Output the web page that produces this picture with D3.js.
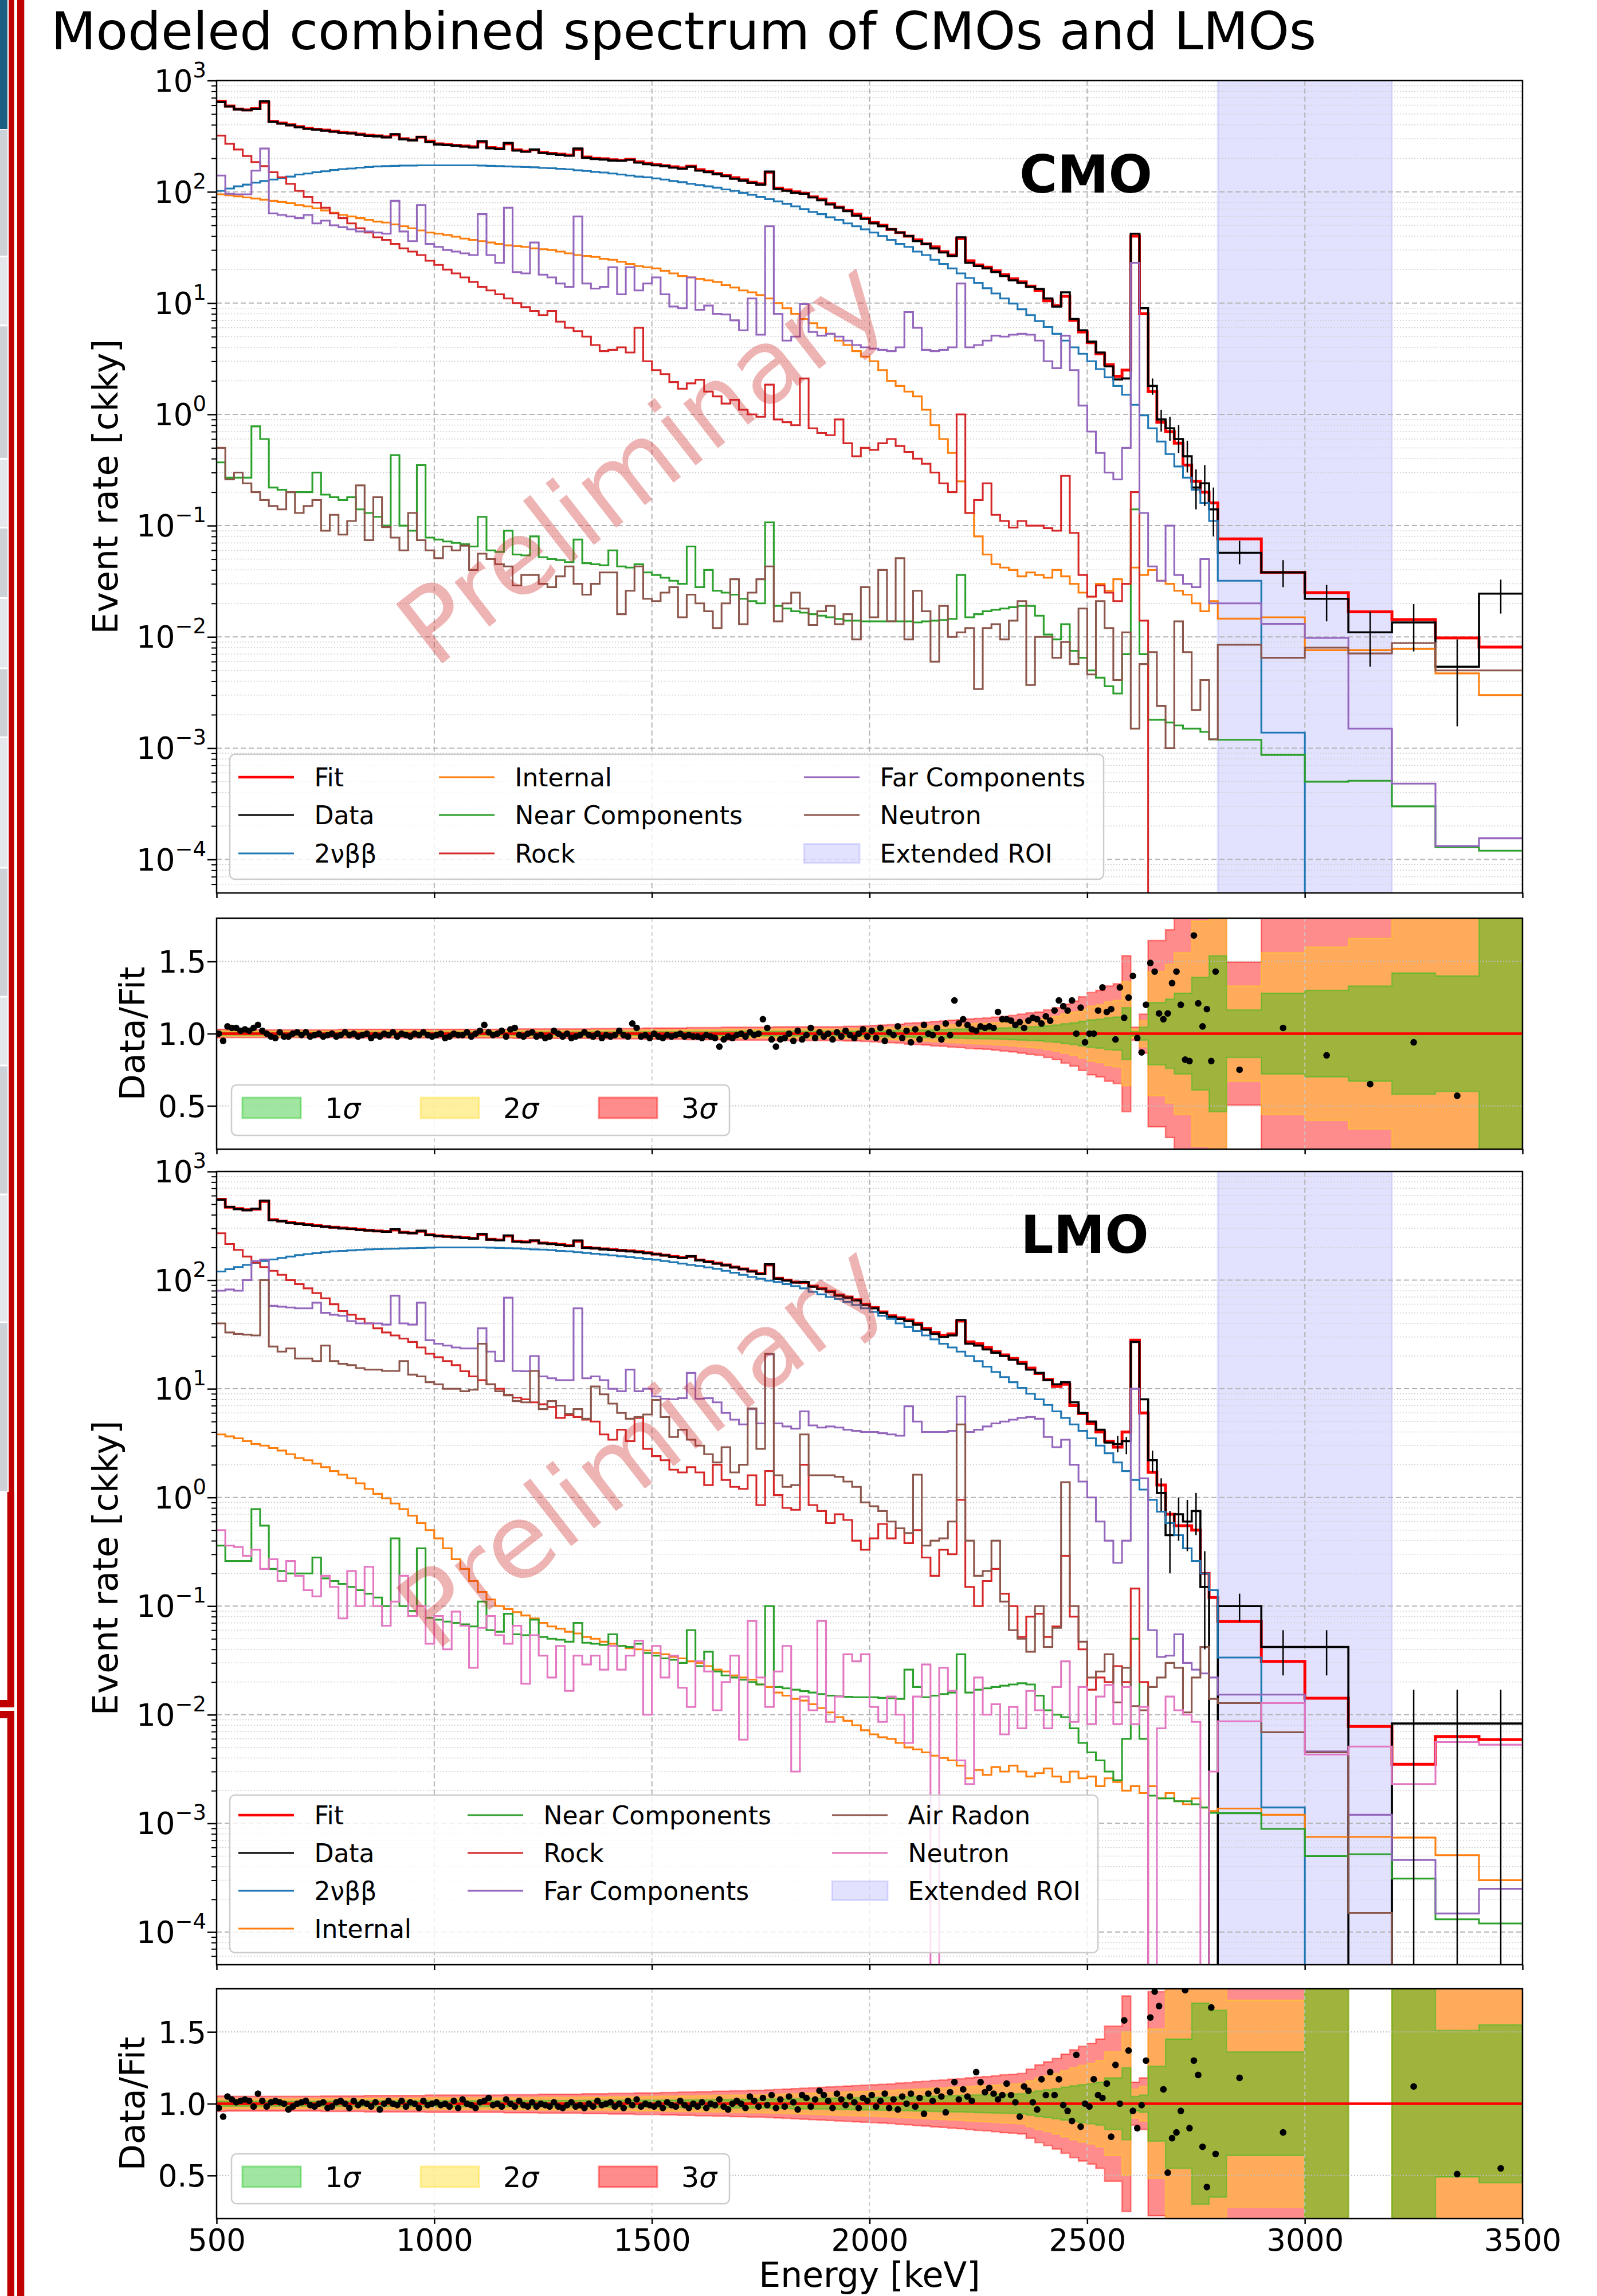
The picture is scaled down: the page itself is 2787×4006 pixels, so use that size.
<!DOCTYPE html>
<html>
<head>
<meta charset="utf-8">
<script src="https://cdn.jsdelivr.net/npm/d3@7/dist/d3.min.js"></script>
<style>
  body { margin: 0; background: #fff; }
  svg { display: block; }
  text { font-family: "DejaVu Sans", sans-serif; }
</style>
</head>
<body>
<svg id="chart" width="2787" height="4006"></svg>
<script>
// ---------------- binning (keV) ----------------
// 20 keV bins from 500 to 2800, then 100 keV bins up to 3500
const fineEdges = d3.range(500, 2800, 20);
const coarseEdges = d3.range(2800, 3501, 100);
const binEdges = fineEdges.concat(coarseEdges);
const binCenters = binEdges.slice(0, -1).map((e, i) => (e + binEdges[i + 1]) / 2);
// ratio points: 10 keV bins, then 100 keV bins
const ratioCenters = d3.range(505, 2800, 10).concat(d3.range(2850, 3500, 100));

const xTicks = [500, 1000, 1500, 2000, 2500, 3000, 3500];
const decadeExps = [-4, -3, -2, -1, 0, 1, 2, 3];
const ratioTicks = [0.5, 1.0, 1.5];
const roi = [2800, 3200];

// ---------------- CMO spectrum (counts / keV / kg / yr) ----------------
const cmoFit = [
  650, 590, 555, 545, 560, 640, 430, 415, 400, 385,
  372, 365, 358, 350, 342, 338, 330, 322, 318, 312,
  325, 300, 292, 310, 285, 270, 266, 262, 258, 254,
  280, 250, 245, 270, 238, 232, 238, 226, 222, 218,
  214, 240, 205, 200, 198, 194, 192, 196, 186, 180,
  176, 172, 168, 164, 170, 158, 152, 146, 140, 134,
  128, 122, 118, 150, 108, 104, 100, 97, 90, 86,
  78, 73, 68, 63, 58, 53, 50, 46, 43, 40,
  37, 34, 32, 29, 27, 38, 24, 22, 21, 19.5,
  18, 16.5, 15.5, 14.2, 13, 10.5, 9.5, 11.5, 7, 5.5,
  4.4, 3.5, 2.8, 2.2, 2.5, 40, 8, 1.6, 0.85, 0.7,
  0.55, 0.35, 0.25, 0.2, 0.16,
  0.076, 0.038, 0.025, 0.0168, 0.0143, 0.0098, 0.0081
];
const cmoData = [
  640, 585, 550, 540, 555, 650, 425, 410, 396, 380,
  368, 362, 354, 347, 338, 335, 326, 318, 315, 308,
  330, 296, 290, 312, 280, 266, 263, 259, 255, 250,
  285, 246, 242, 275, 235, 229, 240, 223, 219, 215,
  211, 245, 202, 197, 195, 191, 190, 194, 183, 177,
  173, 170, 165, 161, 168, 155, 150, 144, 138, 131,
  126, 120, 116, 152, 106, 102, 98, 96, 89, 84,
  77, 72, 67, 61, 57, 52, 49, 46, 43, 40,
  36, 34, 31, 28.5, 26.5, 39, 23, 21.5, 20.5, 19,
  17.5, 16, 15.2, 14, 13.4, 11, 9.3, 12.5, 7.2, 5.7,
  4.5, 3.6, 2.7, 2.06, 2.1, 42, 9, 1.8, 0.9, 0.75,
  0.6, 0.42, 0.22, 0.24, 0.14,
  0.057, 0.038, 0.022, 0.011, 0.0135, 0.0054, 0.0245
];
const cmoTwoNu = [
  102, 107, 112, 116, 121, 125, 129, 133, 137, 143,
  146, 150, 153, 157, 160, 162, 165, 167, 169, 170,
  171, 172, 172, 173, 173, 173, 173, 173, 173, 173,
  172, 171, 170, 169, 168, 167, 166, 164, 163, 161,
  159, 156, 154, 151, 149, 146, 143, 140, 137, 135,
  132, 129, 125, 122, 118, 115, 112, 109, 105, 102,
  98, 94, 90, 86, 82, 78, 74, 70, 66, 63,
  59, 56, 52, 49, 46, 43, 40, 37, 34, 32,
  29, 27, 24.5, 22.5, 20.5, 18.5, 16.8, 15.2, 13.6, 12.2,
  11, 9.9, 8.8, 7.8, 6.9, 6.1, 5.3, 4.6, 4.0, 3.5,
  3.0, 2.55, 2.15, 1.8, 1.5, 1.22, 0.98, 0.75, 0.57, 0.44,
  0.34, 0.27, 0.21, 0.16, 0.11,
  0.032, 0.00138, 0, 0, 0, 0, 0
];
const cmoInternal = [
  95, 93, 91, 89, 87, 85, 83, 81, 79, 76,
  74, 71, 68, 65, 62, 60, 58, 56, 54, 53,
  51, 49, 47, 45, 43, 42, 41, 39.5, 38, 37,
  36, 35, 34, 33, 32.5, 32, 31, 30.5, 30, 29,
  28, 27, 26.5, 26, 25, 24.5, 23.5, 22.5, 21.5, 21,
  20.5, 19.5, 18.5, 17.5, 17, 16.5, 16, 15.5, 14.5, 13.8,
  13, 12.5, 11.8, 11, 10, 9, 8, 7.2, 6.6, 6,
  5.3, 4.6, 4.2, 3.7, 3.3, 3.0, 2.5, 2.0, 1.8, 1.6,
  1.45, 1.1, 0.8, 0.6, 0.45, 0.25, 0.13, 0.08, 0.055, 0.045,
  0.042, 0.04, 0.035, 0.038, 0.036, 0.034, 0.04, 0.035, 0.03, 0.025,
  0.023, 0.03, 0.026, 0.033, 0.03, 0.042, 0.036, 0.04, 0.032, 0.03,
  0.026, 0.024, 0.02, 0.017, 0.021,
  0.0146, 0.015, 0.0076, 0.0076, 0.0078, 0.0047, 0.003
];
const cmoNear = [
  0.37, 0.27, 0.27, 0.27, 0.78, 0.6, 0.22, 0.21, 0.2, 0.2,
  0.2, 0.3, 0.19, 0.18, 0.17, 0.18, 0.14, 0.13, 0.12, 0.1,
  0.43, 0.1, 0.09, 0.35, 0.078, 0.075, 0.072, 0.07, 0.068, 0.065,
  0.12, 0.06, 0.058, 0.09, 0.055, 0.054, 0.08, 0.052, 0.05, 0.049,
  0.047, 0.075, 0.046, 0.045, 0.044, 0.06, 0.043, 0.042, 0.045, 0.038,
  0.036, 0.034, 0.032, 0.03, 0.065, 0.028, 0.04, 0.026, 0.025, 0.024,
  0.022, 0.021, 0.02, 0.107, 0.019, 0.018, 0.017, 0.0165, 0.016, 0.0155,
  0.015, 0.0145, 0.014, 0.014, 0.0138, 0.0138, 0.0138, 0.0138, 0.0138, 0.0138,
  0.0135, 0.0138, 0.014, 0.0142, 0.0145, 0.036, 0.015, 0.016, 0.017, 0.0175,
  0.018, 0.0185, 0.019, 0.019, 0.0155, 0.0105, 0.0095, 0.013, 0.0075, 0.0065,
  0.005, 0.0043, 0.0036, 0.0031, 0.007, 0.14, 0.007, 0.0018, 0.0018, 0.0017,
  0.0016, 0.0015, 0.0015, 0.0014, 0.0012,
  0.00119, 0.00087, 0.0005, 0.00051, 0.0003, 0.000129, 0.00012
];
const cmoRock = [
  320, 270, 240, 210, 185, 170, 150, 135, 118, 102,
  90, 80, 72, 64, 58, 52, 47, 43, 39, 37,
  34, 31, 29, 27, 24, 22, 20, 18.5, 17, 15.5,
  14, 13, 12, 11, 10, 9.2, 8.5, 7.8, 8.5, 6.8,
  6.0, 5.6, 5.0, 4.2, 3.7, 3.8, 4.0, 3.6, 6.0, 3.0,
  2.5, 2.3, 1.95, 1.7, 1.9, 2.05, 1.6, 1.45, 1.25, 1.35,
  1.1, 1.0, 0.95, 1.85, 0.9, 0.85, 0.8, 2.1, 0.75, 0.68,
  0.65, 0.9, 0.55, 0.42, 0.5, 0.48, 0.55, 0.6, 0.52, 0.46,
  0.4, 0.36, 0.3, 0.24, 0.2, 1.0, 0.13, 0.17, 0.24, 0.125,
  0.11, 0.096, 0.11, 0.1, 0.1, 0.095, 0.09, 0.28, 0.086, 0.036,
  0.023, 0.029, 0.025, 0.021, 0.03, 0.2, 0.014, 0, 0, 0,
  0, 0, 0, 0, 0,
  0, 0, 0, 0, 0, 0, 0
];
const cmoFar = [
  140, 96, 95, 95, 155, 245, 64, 62, 60, 58,
  62, 52, 55, 50, 48, 46, 44, 44, 43, 42,
  83, 44, 36, 76, 34, 32, 30, 29, 28, 27,
  63, 27, 23, 72, 19, 18.5, 35, 18, 17, 15,
  14, 60, 15, 13.5, 14, 21, 12, 21, 13, 15,
  17, 12, 9.3, 9, 17, 8.7, 9.5, 8, 7.9, 7,
  5.7, 11, 5.2, 49, 8, 4.6, 5, 9.8, 5.5, 5.1,
  5.3, 5.0, 4.6, 4.2, 4.0, 3.9, 3.8, 3.7, 4.0, 8.3,
  6, 3.8, 3.7, 3.8, 4.0, 15, 4.0, 4.2, 4.6, 5.1,
  5.0, 5.2, 5.3, 5.2, 4.6, 3.0, 2.6, 5.1, 2.5, 1.2,
  0.7, 0.45, 0.3, 0.26, 0.5, 23, 0.13, 0.043, 0.032, 0.1,
  0.036, 0.03, 0.028, 0.05, 0.02,
  0.02, 0.0131, 0.0098, 0.0015, 0.00048, 0.000132, 0.000155
];
const cmoNeutron = [
  0.5, 0.26, 0.3, 0.24, 0.2, 0.17, 0.15, 0.14, 0.2, 0.13,
  0.15, 0.17, 0.09, 0.125, 0.083, 0.11, 0.23, 0.074, 0.18, 0.097,
  0.078, 0.06, 0.13, 0.074, 0.06, 0.051, 0.065, 0.06, 0.066, 0.04,
  0.056, 0.05, 0.045, 0.043, 0.029, 0.036, 0.036, 0.03, 0.028, 0.035,
  0.043, 0.03, 0.024, 0.03, 0.038, 0.038, 0.016, 0.026, 0.043, 0.022,
  0.021, 0.025, 0.028, 0.015, 0.024, 0.02, 0.017, 0.012, 0.02, 0.033,
  0.013, 0.025, 0.033, 0.043, 0.0138, 0.02, 0.025, 0.018, 0.0128, 0.017,
  0.019, 0.013, 0.016, 0.0095, 0.028, 0.015, 0.04, 0.0138, 0.051, 0.0095,
  0.026, 0.017, 0.006, 0.019, 0.01, 0.011, 0.012, 0.0034, 0.012, 0.013,
  0.0095, 0.014, 0.021, 0.0037, 0.01, 0.01, 0.0065, 0.009, 0.0057, 0.018,
  0.0046, 0.021, 0.012, 0.0041, 0.011, 0.0015, 0.0057, 0.0073, 0.0024, 0.001,
  0.0138, 0.0073, 0.0022, 0.0041, 0.0012,
  0.0085, 0.0065, 0.008, 0.0071, 0.0088, 0.005, 0.005
];
const cmoErrE  = [2650, 2670, 2690, 2710, 2730, 2750, 2770, 2790, 2850, 2950, 3050, 3150, 3250, 3350, 3450];
const cmoErrLo = [1.5, 0.7, 0.58, 0.45, 0.3, 0.14, 0.15, 0.08, 0.045, 0.028, 0.0138, 0.0054, 0.0074, 0.00157, 0.0162];
const cmoErrHi = [2.1, 1.1, 0.95, 0.8, 0.58, 0.32, 0.35, 0.22, 0.073, 0.049, 0.0293, 0.0168, 0.0197, 0.0095, 0.0327];

// ---------------- LMO spectrum ----------------
const lmoFit = [
  555, 470, 455, 445, 450, 530, 360, 350, 340, 332,
  325, 318, 312, 307, 302, 298, 293, 288, 284, 281,
  290, 276, 272, 282, 262, 256, 253, 250, 246, 243,
  262, 238, 234, 255, 228, 225, 230, 220, 217, 213,
  208, 228, 200, 197, 194, 191, 188, 186, 183, 179,
  174, 170, 165, 161, 165, 153, 148, 143, 138, 132,
  127, 121, 115, 138, 104, 100, 96, 95, 88, 84,
  79, 73, 70, 66, 60, 56, 51, 47, 45, 43,
  40, 36, 33, 31, 32, 42, 27, 26, 24, 22,
  20.5, 19, 17.5, 15.5, 13.8, 12.2, 10.5, 11, 7, 5.9,
  4.8, 4.0, 3.3, 2.9, 4, 28, 6, 1.7, 1.3, 0.7,
  0.55, 0.55, 0.5, 0.2, 0.12,
  0.072, 0.031, 0.0142, 0.0078, 0.0035, 0.0063, 0.0059
];
const lmoData = [
  550, 472, 450, 440, 455, 540, 355, 348, 336, 330,
  322, 316, 310, 305, 299, 296, 290, 286, 282, 279,
  294, 274, 270, 285, 260, 254, 252, 248, 244, 241,
  266, 236, 232, 258, 226, 223, 232, 218, 215, 211,
  206, 232, 198, 196, 192, 189, 187, 184, 181, 177,
  173, 169, 164, 160, 166, 152, 147, 142, 137, 131,
  126, 120, 114, 140, 103, 99, 95, 96, 87, 83,
  78, 72, 69, 65, 59, 55, 50, 46, 44, 42,
  39, 35, 32, 30, 31, 43, 26, 25, 23, 21.5,
  20, 18.5, 17, 15, 14, 12, 11, 11.5, 7.5, 6,
  5.0, 4.2, 3.2, 3.1, 3.3, 27, 8, 2.2, 1.1, 0.45,
  0.7, 0.6, 0.75, 0.15, 0,
  0.1, 0.042, 0.042, 0, 0.0083, 0.0083, 0.0083
];
const lmoTwoNu = [
  120, 126, 132, 138, 144, 150, 155, 160, 165, 170,
  174, 177, 181, 184, 186, 188, 190, 192, 193, 194,
  195, 196, 197, 198, 199, 200, 200, 200, 200, 200,
  200, 199, 198, 197, 196, 194, 192, 191, 189, 186,
  184, 181, 178, 175, 172, 169, 166, 163, 160, 157,
  154, 150, 146, 142, 138, 135, 131, 127, 122, 117,
  112, 107, 103, 99, 96, 92, 88, 84, 78, 74,
  70, 67, 63, 59, 55, 51, 47, 44, 40, 37,
  34, 31, 28.5, 26, 24, 22, 20, 18, 16, 14.3,
  12.8, 11.5, 10.2, 9, 8, 7.1, 6.2, 5.4, 4.7, 4.1,
  3.5, 3.0, 2.55, 2.1, 1.75, 1.45, 1.18, 0.95, 0.74, 0.58,
  0.45, 0.34, 0.26, 0.2, 0.14,
  0.0336, 0.0014, 0, 0, 0, 0, 0
];
const lmoInternal = [
  3.8, 3.65, 3.5, 3.3, 3.1, 3.0, 2.85, 2.7, 2.5, 2.3,
  2.2, 2.05, 1.9, 1.75, 1.62, 1.5, 1.35, 1.2, 1.08, 0.98,
  0.88, 0.78, 0.68, 0.58, 0.5, 0.42, 0.34, 0.27, 0.22, 0.17,
  0.135, 0.115, 0.1, 0.094, 0.088, 0.082, 0.077, 0.07, 0.065, 0.062,
  0.058, 0.056, 0.052, 0.05, 0.047, 0.045, 0.043, 0.041, 0.04, 0.039,
  0.037, 0.036, 0.034, 0.033, 0.031, 0.03, 0.028, 0.026, 0.025, 0.023,
  0.022, 0.021, 0.019, 0.018, 0.016, 0.015, 0.014, 0.0135, 0.0125, 0.0115,
  0.0105, 0.0095, 0.0088, 0.008, 0.0072, 0.0066, 0.0062, 0.006, 0.0055, 0.005,
  0.0048, 0.0045, 0.0042, 0.004, 0.0038, 0.0034, 0.0026, 0.0031, 0.0028, 0.0033,
  0.003, 0.0034, 0.003, 0.0027, 0.0029, 0.0032, 0.0027, 0.0024, 0.003, 0.0026,
  0.0027, 0.0022, 0.0026, 0.0024, 0.002, 0.0022, 0.0019, 0.0022, 0.0017, 0.0019,
  0.0016, 0.0015, 0.0017, 0.0014, 0.0013,
  0.00137, 0.0012, 0.00075, 0.00075, 0.00074, 0.00051, 0.0003
];
const lmoNear = [
  0.36, 0.26, 0.26, 0.26, 0.78, 0.55, 0.22, 0.21, 0.2, 0.2,
  0.2, 0.28, 0.18, 0.17, 0.16, 0.15, 0.14, 0.13, 0.12, 0.1,
  0.42, 0.1, 0.09, 0.34, 0.078, 0.075, 0.072, 0.07, 0.068, 0.065,
  0.11, 0.06, 0.058, 0.085, 0.055, 0.054, 0.075, 0.052, 0.05, 0.049,
  0.047, 0.07, 0.046, 0.045, 0.044, 0.055, 0.043, 0.042, 0.045, 0.037,
  0.035, 0.033, 0.032, 0.03, 0.06, 0.028, 0.038, 0.025, 0.023, 0.022,
  0.021, 0.02, 0.019, 0.1, 0.018, 0.0175, 0.017, 0.0165, 0.016, 0.0155,
  0.015, 0.0148, 0.0146, 0.0145, 0.0145, 0.0145, 0.0143, 0.0142, 0.014, 0.026,
  0.018, 0.0145, 0.015, 0.0155, 0.016, 0.036, 0.016, 0.017, 0.0175, 0.018,
  0.0185, 0.019, 0.0195, 0.019, 0.015, 0.011, 0.01, 0.0095, 0.0075, 0.0055,
  0.0045, 0.0038, 0.003, 0.0025, 0.006, 0.05, 0.006, 0.0018, 0.0017, 0.0017,
  0.0016, 0.0016, 0.0015, 0.0014, 0.00125,
  0.00124, 0.00089, 0.0005, 0.00052, 0.00031, 0.000131, 0.00012
];
const lmoRock = [
  270, 215, 190, 165, 145, 132, 122, 112, 100, 92,
  84, 76, 68, 60, 52, 48, 44, 40, 36, 33,
  31, 29, 27, 24, 21, 19.5, 18, 16.5, 14.5, 13,
  12, 11, 10, 8.8, 8.3, 8, 7.5, 7.2, 6.8, 5.4,
  5.7, 5.5, 5.2, 5.0, 3.8, 3.4, 4.2, 3.3, 5.4, 2.8,
  2.4, 2.2, 1.8, 1.7, 1.9, 1.7, 1.3, 2.0, 1.45, 1.25,
  1.2, 1.6, 0.85, 1.75, 1.05, 0.8, 0.77, 2.0, 0.85, 0.75,
  0.58, 0.7, 0.62, 0.4, 0.33, 0.42, 0.57, 0.42, 0.52, 0.38,
  0.5, 0.28, 0.19, 0.33, 0.3, 0.95, 0.15, 0.1, 0.17, 0.22,
  0.13, 0.1, 0.052, 0.08, 0.085, 0.052, 0.065, 0.29, 0.08, 0.04,
  0.017, 0.022, 0.02, 0.028, 0.02, 0.145, 0.02, 0, 0, 0,
  0, 0, 0, 0, 0,
  0, 0, 0, 0, 0, 0, 0
];
const lmoFar = [
  80, 82, 80, 100, 150, 155, 58, 57, 56, 55,
  55, 62, 50, 48, 47, 42, 40, 40, 40, 39,
  72, 40, 39, 62, 28, 26, 25, 24, 23.5, 23.5,
  36, 22, 18, 69, 14.6, 14.5, 20, 13, 12.5, 12,
  12, 55, 12.5, 13, 12, 10, 9.5, 15, 9.5, 10,
  8.5, 8.1, 8, 8.2, 14, 8.1, 8.2, 7.5, 6, 5.2,
  4.7, 6.5, 4.8, 20.7, 4.8, 4.5, 4.3, 6.2, 4.6, 4.4,
  4.5, 4.4, 4.2, 4.1, 4.0, 4.0, 3.9, 3.8, 3.7, 6.9,
  5, 4, 4, 4, 4.1, 8.5, 4.0, 4.2, 4.5, 4.8,
  5.0, 5.2, 5.4, 5.5, 5.3, 3.6, 2.9, 3.4, 2.0, 1.4,
  1.0, 0.6, 0.4, 0.25, 0.4, 10, 1.5, 0.06, 0.034, 0.035,
  0.055, 0.03, 0.026, 0.024, 0.022,
  0.0153, 0.0153, 0.0046, 0.0012, 0.00046, 0.000148, 0.00025
];
const lmoAirRadon = [
  40, 33, 32, 31.5, 31, 100, 24.5, 22, 23.5, 19,
  19, 18, 25, 18, 17, 16.5, 15.5, 15, 15, 14.6,
  14.6, 18, 13.5, 13, 11.5, 11, 10, 10, 9.5, 9.8,
  26, 11, 9.5, 8.7, 7.7, 7.5, 14.6, 6.5, 7.7, 7,
  5.9, 6.5, 5.3, 10.5, 8.9, 7.3, 6, 5.3, 5.5, 5.8,
  7.9, 5.5, 3.6, 4.2, 3.4, 3.0, 2.5, 2.1, 2.9, 1.7,
  2.0, 6.6, 2.8, 21, 1.6, 1.25, 1.3, 3.8, 1.6, 1.6,
  1.6, 1.55, 1.4, 1.25, 0.9, 0.83, 0.75, 0.6, 0.52, 0.47,
  1.62, 0.36, 0.4, 0.42, 0.6, 4.7, 0.4, 0.19, 0.21, 0.4,
  0.11, 0.06, 0.05, 0.038, 0.1, 0.042, 0.063, 1.38, 0.1, 0.047,
  0.022, 0.025, 0.036, 0.013, 0.027, 0.012, 0.011, 0.018, 0.022, 0.03,
  0.027, 0.0105, 0.022, 0.042, 0.014,
  0.0128, 0.0069, 0.0045, 0.00015, 0, 0, 0
];
const lmoNeutron = [
  0.5, 0.36, 0.35, 0.29, 0.33, 0.22, 0.27, 0.17, 0.26, 0.19,
  0.14, 0.123, 0.19, 0.15, 0.077, 0.21, 0.1, 0.23, 0.1, 0.066,
  0.11, 0.19, 0.081, 0.1, 0.045, 0.081, 0.04, 0.089, 0.066, 0.027,
  0.063, 0.081, 0.054, 0.045, 0.066, 0.0193, 0.054, 0.035, 0.022, 0.043,
  0.0166, 0.035, 0.029, 0.035, 0.026, 0.043, 0.026, 0.035, 0.048, 0.01,
  0.043, 0.022, 0.035, 0.0177, 0.0118, 0.031, 0.025, 0.011, 0.02, 0.035,
  0.0059, 0.073, 0.022, 0.0118, 0.025, 0.043, 0.003, 0.0147, 0.011, 0.073,
  0.0086, 0.0147, 0.036, 0.031, 0.036, 0.0118, 0.0086, 0.0147, 0.01, 0.0055,
  0.0147, 0.029, 0, 0.027, 0.0166, 0.0038, 0.0023, 0.022, 0.01, 0.0125,
  0.0066, 0.0118, 0.0075, 0.0166, 0.011, 0.0075, 0.018, 0.031, 0.0086, 0.018,
  0.0082, 0.0147, 0.0188, 0.0082, 0.018, 0.0082, 0.0118, 0, 0.0075, 0.0147,
  0.011, 0.01, 0.0086, 0, 0.003,
  0.0087, 0.0128, 0.0043, 0.0051, 0.0023, 0.0056, 0.0053
];
const lmoErrE  = [2570, 2590, 2650, 2670, 2690, 2710, 2730, 2750, 2770, 2850, 2950, 3050, 3250, 3350, 3450];
const lmoErrLo = [2.6, 2.5, 1.7, 0.75, 0.2, 0.4, 0.32, 0.45, 0.04, 0.072, 0.023, 0.023, 0, 0, 0];
const lmoErrHi = [3.7, 3.6, 2.7, 1.5, 0.75, 1.0, 0.95, 1.1, 0.32, 0.13, 0.06, 0.06, 0.017, 0.017, 0.017];

// ---------------- Data/Fit ratios ----------------
const cmoRatio = [
  1.00, 0.95, 1.05, 1.04, 1.04, 1.02, 1.03, 1.02, 1.04, 1.06,
  1.02, 1.00, 0.98, 0.97, 1.01, 0.98, 0.98, 1.00, 1.01, 0.99,
  1.01, 0.98, 0.99, 1.00, 0.98, 0.99, 1.00, 0.98, 0.99, 1.01,
  0.99, 1.00, 0.98, 0.99, 1.00, 0.97, 0.99, 0.98, 1.00, 0.99,
  1.01, 0.98, 1.00, 0.99, 0.98, 1.00, 0.99, 1.01, 0.99, 0.98,
  0.99, 1.00, 0.97, 0.98, 1.00, 0.99, 0.99, 1.01, 0.98, 1.00,
  1.02, 1.06, 1.01, 0.99, 1.00, 1.02, 0.98, 1.03, 1.04, 0.99,
  0.98, 1.00, 1.01, 0.98, 0.99, 0.97, 0.98, 1.02, 1.00, 0.98,
  1.00, 0.97, 0.98, 0.99, 1.01, 0.99, 0.98, 1.00, 0.97, 0.99,
  0.98, 0.99, 1.02, 0.99, 0.98, 1.07, 1.04, 0.98, 0.99, 0.97,
  1.00, 0.98, 0.97, 0.99, 0.98, 0.99, 1.00, 0.98, 0.99, 0.98,
  0.98, 0.97, 0.99, 0.98, 0.97, 0.91, 0.96, 0.98, 0.97, 0.99,
  1.00, 0.98, 1.01, 0.99, 1.00, 1.10, 1.04, 0.96, 0.91, 0.96,
  0.97, 1.00, 0.95, 1.02, 0.96, 0.99, 1.04, 0.97, 1.01, 0.98,
  1.00, 0.96, 1.01, 0.98, 1.02, 0.99, 0.97, 1.00, 1.03, 0.98,
  1.02, 0.97, 1.04, 0.95, 1.01, 0.99, 1.05, 0.97, 1.02, 0.94,
  1.03, 0.96, 1.06, 1.00, 0.99, 1.04, 0.96, 1.07, 0.99, 1.23,
  1.07, 1.10, 1.06, 1.03, 1.02, 1.05, 1.04, 1.05, 1.04, 1.15,
  1.10, 1.10, 1.09, 1.06, 1.08, 1.04, 1.09, 1.11, 1.10, 1.07,
  1.12, 1.09, 1.16, 1.23, 1.19, 1.16, 1.23, 1.00, 1.18, 0.94,
  1.00, 1.00, 1.16, 1.32, 1.15, 1.17, 0.96, 1.32, 1.11, 1.25,
  1.40, 0.97, 0.87, 1.20, 1.49, 1.43, 1.14, 1.10, 1.14, 1.35,
  1.43, 1.20, 0.82, 0.81, 1.68, 1.21, 1.05, 1.17, 0.81, 1.43,
  0.75, 1.04, 0.85, 0.65, 0.94, 0.57, 3.0
];
const lmoRatio = [
  0.97, 0.91, 1.05, 1.03, 1.01, 1.02, 1.03, 1.02, 0.98, 1.07,
  1.02, 0.98, 1.01, 1.02, 1.01, 1.00, 0.96, 0.98, 1.00, 1.01,
  1.02, 0.99, 0.98, 1.00, 1.01, 0.97, 0.98, 1.01, 1.02, 1.00,
  0.97, 1.02, 0.99, 1.01, 1.00, 0.98, 1.01, 0.96, 1.00, 1.02,
  1.00, 0.99, 1.02, 0.98, 1.01, 1.00, 0.97, 1.02, 0.99, 1.00,
  1.01, 0.99, 1.00, 0.98, 1.02, 0.97, 1.03, 1.00, 0.99, 0.97,
  1.01, 1.02, 1.04, 0.99, 1.00, 0.98, 1.03, 1.00, 0.98, 1.02,
  0.99, 0.98, 1.01, 0.98, 1.00, 0.99, 0.98, 1.01, 0.98, 0.97,
  0.99, 1.01, 0.98, 0.99, 0.97, 1.00, 0.98, 1.02, 0.99, 1.00,
  1.01, 0.98, 1.00, 0.97, 1.02, 0.99, 1.03, 0.98, 1.00, 0.99,
  0.98, 1.00, 0.97, 1.01, 0.99, 0.98, 1.02, 0.99, 0.97, 1.00,
  0.98, 1.01, 0.97, 1.00, 0.99, 1.03, 0.98, 0.96, 1.00, 1.02,
  1.00, 0.97, 1.05, 1.02, 0.98, 1.04, 0.99, 1.06, 0.97, 1.03,
  0.98, 1.05, 1.01, 0.96, 1.06, 1.04, 0.98, 1.03, 1.09, 1.06,
  1.02, 0.97, 1.07, 1.03, 0.99, 1.05, 1.01, 0.97, 1.04, 1.02,
  1.06, 0.98, 1.02, 1.07, 0.97, 1.03, 0.96, 1.05, 1.00, 1.07,
  0.98, 1.04, 0.93, 1.07, 1.02, 1.09, 1.05, 0.94, 1.08, 1.15,
  1.03, 1.10, 1.05, 1.02, 1.22, 1.15, 1.08, 1.11, 1.07, 1.03,
  1.06, 1.14, 1.06, 1.01, 0.91, 1.12, 1.09, 1.01, 0.96, 1.17,
  1.06, 1.22, 1.06, 1.17, 0.99, 0.95, 0.88, 1.34, 0.84, 1.00,
  0.98, 1.17, 1.06, 1.04, 1.14, 0.77, 1.27, 1.00, 1.58, 1.37,
  0.95, 0.83, 0.99, 1.30, 1.60, 1.78, 1.68, 1.10, 0.52, 0.76,
  0.80, 0.95, 1.79, 0.83, 1.30, 1.20, 0.70, 0.42, 1.67, 0.65,
  1.18, 0.80, 3.0, 0, 1.12, 0.51, 0.55
];
// 1-sigma relative uncertainty of the fit, per spectrum bin (null = no band)
const cmoSigma = [
  0.010, 0.009, 0.009, 0.009, 0.009, 0.009, 0.009, 0.009, 0.009, 0.009,
  0.009, 0.009, 0.009, 0.009, 0.010, 0.010, 0.010, 0.010, 0.010, 0.010,
  0.010, 0.010, 0.010, 0.010, 0.010, 0.010, 0.010, 0.010, 0.010, 0.010,
  0.010, 0.010, 0.010, 0.010, 0.011, 0.011, 0.011, 0.011, 0.011, 0.011,
  0.011, 0.011, 0.011, 0.012, 0.012, 0.012, 0.012, 0.012, 0.012, 0.013,
  0.013, 0.013, 0.013, 0.013, 0.014, 0.014, 0.014, 0.014, 0.015, 0.015,
  0.015, 0.015, 0.015, 0.015, 0.016, 0.016, 0.016, 0.016, 0.016, 0.016,
  0.016, 0.016, 0.017, 0.017, 0.018, 0.019, 0.020, 0.021, 0.022, 0.024,
  0.025, 0.026, 0.028, 0.029, 0.031, 0.032, 0.034, 0.035, 0.036, 0.038,
  0.040, 0.042, 0.045, 0.048, 0.050, 0.055, 0.060, 0.068, 0.075, 0.085,
  0.095, 0.100, 0.110, 0.115, 0.180, 0.015, 0.045, 0.215, 0.215, 0.240,
  0.280, 0.280, 0.390, 0.390, 0.540,
  0.165, 0.28, 0.30, 0.33, 0.42, 0.40, 0.9
];
const lmoSigma = [
  0.018, 0.017, 0.017, 0.017, 0.017, 0.017, 0.017, 0.017, 0.017, 0.017,
  0.017, 0.017, 0.018, 0.018, 0.018, 0.018, 0.018, 0.019, 0.019, 0.019,
  0.019, 0.019, 0.019, 0.019, 0.020, 0.020, 0.020, 0.020, 0.020, 0.020,
  0.020, 0.020, 0.020, 0.021, 0.021, 0.021, 0.021, 0.022, 0.022, 0.022,
  0.022, 0.022, 0.023, 0.023, 0.023, 0.024, 0.024, 0.024, 0.025, 0.025,
  0.025, 0.026, 0.026, 0.027, 0.027, 0.028, 0.028, 0.029, 0.029, 0.030,
  0.030, 0.031, 0.031, 0.032, 0.033, 0.034, 0.035, 0.036, 0.037, 0.038,
  0.039, 0.040, 0.041, 0.042, 0.043, 0.044, 0.045, 0.046, 0.048, 0.049,
  0.051, 0.052, 0.054, 0.055, 0.057, 0.058, 0.060, 0.062, 0.063, 0.065,
  0.067, 0.068, 0.070, 0.080, 0.090, 0.097, 0.105, 0.115, 0.125, 0.133,
  0.140, 0.150, 0.180, 0.180, 0.250, 0.050, 0.060, 0.260, 0.260, 0.450,
  0.450, 0.450, 0.700, 0.700, 0.650,
  0.36, 0.36, 0.9, null, 0.9, 0.51, 0.55
];

// ---------------- drawing ----------------
const svg = d3.select("#chart");
const X0 = 378, X1 = 2657;
const x = d3.scaleLinear().domain([500, 3500]).range([X0, X1]);

const colors = {
  fit: "#ff0000", data: "#000000", twonu: "#1f77b4", internal: "#ff7f0e",
  near: "#2ca02c", rock: "#d62728", far: "#9467bd", brown: "#8c564b", pink: "#e377c2"
};

// slide edge decoration
svg.append("rect").attr("x", 0).attr("y", 0).attr("width", 13).attr("height", 225).attr("fill", "#1b5e82");
const sideStops = [225, 447.6, 567.8, 800.5, 920.7, 1043.5, 1166, 1286.4, 1514, 1739, 1859, 2084, 2307, 2603];
for (let i = 0; i < sideStops.length - 1; i++) {
  svg.append("rect").attr("x", 0).attr("y", sideStops[i] + 1.5).attr("width", 13)
    .attr("height", sideStops[i + 1] - sideStops[i] - 3)
    .attr("fill", i % 2 === 0 ? "#cdd2d9" : "#e4e7eb");
}
svg.append("rect").attr("x", 15.3).attr("y", 0).attr("width", 9.4).attr("height", 4006).attr("fill", "#c00000");
svg.append("rect").attr("x", 12.7).attr("y", 2603).attr("width", 12).attr("height", 1403).attr("fill", "#c00000");
svg.append("rect").attr("x", 30).attr("y", 0).attr("width", 12.3).attr("height", 4006).attr("fill", "#c00000");
svg.append("rect").attr("x", 0).attr("y", 2966).attr("width", 25).attr("height", 32).attr("fill", "#c00000");
svg.append("rect").attr("x", 0).attr("y", 2979).attr("width", 25).attr("height", 6).attr("fill", "#ffffff");

// title
svg.append("text").attr("x", 89).attr("y", 86).attr("font-size", 91)
  .text("Modeled combined spectrum of CMOs and LMOs");

function frameAndXAxis(p, showLabels) {
  const xa = svg.append("g").attr("transform", `translate(0,${p.bottom})`)
    .call(d3.axisBottom(x).tickValues(xTicks).tickSize(9).tickPadding(9)
      .tickFormat(showLabels ? d3.format("d") : ""));
  xa.select(".domain").remove();
  xa.selectAll("line").attr("stroke", "#000").attr("stroke-width", 2.5);
  xa.selectAll("text").attr("font-size", 53).attr("font-family", "DejaVu Sans").attr("fill", "#000");
  svg.append("rect").attr("x", X0).attr("y", p.top).attr("width", X1 - X0).attr("height", p.bottom - p.top)
    .attr("fill", "none").attr("stroke", "#000").attr("stroke-width", 2.5);
}

function drawLegend(box, items, lineLen, gap) {
  svg.append("rect").attr("x", box.x).attr("y", box.y).attr("width", box.w).attr("height", box.h)
    .attr("rx", 9).attr("fill", "#ffffff").attr("fill-opacity", 0.8)
    .attr("stroke", "#cccccc").attr("stroke-width", 2.5);
  items.forEach(it => {
    if (it.kind === "line") {
      svg.append("line").attr("x1", it.x).attr("x2", it.x + lineLen).attr("y1", it.y).attr("y2", it.y)
        .attr("stroke", it.color).attr("stroke-width", it.width);
    } else {
      svg.append("rect").attr("x", it.x).attr("y", it.y - it.h / 2).attr("width", lineLen).attr("height", it.h)
        .attr("fill", it.color).attr("fill-opacity", it.alpha)
        .attr("stroke", it.color).attr("stroke-opacity", it.alpha).attr("stroke-width", 3);
    }
    const t = svg.append("text").attr("x", it.x + gap).attr("y", it.y + it.fs * 0.36).attr("font-size", it.fs);
    if (it.sigma) {
      t.append("tspan").text(it.name);
      t.append("tspan").attr("font-style", "italic").text("σ");
    } else {
      t.text(it.name);
    }
  });
}

function drawSpectrum(cfg) {
  const p = cfg.panel;
  const y = d3.scaleLog().domain([5e-5, 1e3]).range([p.bottom, p.top]);
  const yv = v => (v > 0 ? y(v) : p.bottom + 300);
  svg.append("clipPath").attr("id", cfg.id).append("rect")
    .attr("x", X0).attr("y", p.top).attr("width", X1 - X0).attr("height", p.bottom - p.top);
  const plot = svg.append("g").attr("clip-path", `url(#${cfg.id})`);

  // extended ROI band
  plot.append("rect").attr("x", x(roi[0])).attr("y", p.top - 5)
    .attr("width", x(roi[1]) - x(roi[0])).attr("height", p.bottom - p.top + 10)
    .attr("fill", "#0000ff").attr("fill-opacity", 0.115)
    .attr("stroke", "#0000ff").attr("stroke-opacity", 0.08).attr("stroke-width", 4);

  // grid
  const isDecade = v => Math.abs(Math.log10(v) - Math.round(Math.log10(v))) < 1e-6;
  const minor = y.ticks().filter(v => !isDecade(v) && v > 5e-5 && v < 1e3);
  const major = decadeExps.map(e => Math.pow(10, e));
  plot.append("g").selectAll("line").data(minor).join("line")
    .attr("x1", X0).attr("x2", X1).attr("y1", d => y(d)).attr("y2", d => y(d))
    .attr("stroke", "#cfcfcf").attr("stroke-width", 1.5).attr("stroke-dasharray", "2,3");
  plot.append("g").selectAll("line").data(major).join("line")
    .attr("x1", X0).attr("x2", X1).attr("y1", d => y(d)).attr("y2", d => y(d))
    .attr("stroke", "#b4b4b4").attr("stroke-width", 2).attr("stroke-dasharray", "9,5");
  plot.append("g").selectAll("line").data(xTicks.slice(1, -1)).join("line")
    .attr("x1", d => x(d)).attr("x2", d => x(d)).attr("y1", p.top).attr("y2", p.bottom)
    .attr("stroke", "#b4b4b4").attr("stroke-width", 2).attr("stroke-dasharray", "9,5");

  // step histograms
  const step = d3.line().x(d => x(d[0])).y(d => yv(d[1])).curve(d3.curveStepAfter);
  cfg.series.forEach(s => {
    const pts = s.values.map((v, i) => [binEdges[i], v]);
    pts.push([binEdges[binEdges.length - 1], s.values[s.values.length - 1]]);
    plot.append("path").attr("d", step(pts)).attr("fill", "none")
      .attr("stroke", s.color).attr("stroke-width", s.width);
  });

  // data error bars
  plot.append("g").selectAll("line").data(cfg.err.e).join("line")
    .attr("x1", d => x(d)).attr("x2", d => x(d))
    .attr("y1", (d, i) => yv(cfg.err.lo[i])).attr("y2", (d, i) => yv(cfg.err.hi[i]))
    .attr("stroke", "#000").attr("stroke-width", 2.5);

  // watermark
  plot.append("text")
    .attr("transform", `translate(${cfg.wm[0]},${cfg.wm[1]}) rotate(-38)`)
    .attr("text-anchor", "middle").attr("dominant-baseline", "central")
    .attr("font-size", 180).attr("fill", "#cc2222").attr("fill-opacity", 0.34).text("Preliminary");

  // detector label
  svg.append("text").attr("x", cfg.label[1]).attr("y", cfg.label[2]).attr("text-anchor", "middle")
    .attr("font-size", 90).attr("font-weight", "bold").text(cfg.label[0]);

  // y axis
  const ya = svg.append("g").attr("transform", `translate(${X0},0)`)
    .call(d3.axisLeft(y).tickValues(major).tickSize(16).tickFormat(""));
  ya.select(".domain").remove();
  ya.selectAll("line").attr("stroke", "#000").attr("stroke-width", 2.5);
  const ym = svg.append("g").attr("transform", `translate(${X0},0)`)
    .call(d3.axisLeft(y).tickValues(minor).tickSize(9).tickFormat(""));
  ym.select(".domain").remove();
  ym.selectAll("line").attr("stroke", "#000").attr("stroke-width", 2);
  decadeExps.forEach(e => {
    const t = svg.append("text").attr("x", X0 - 18).attr("y", y(Math.pow(10, e)) + 19)
      .attr("text-anchor", "end").attr("font-size", 53);
    t.append("tspan").text("10");
    t.append("tspan").attr("dy", -25).attr("font-size", 37).text(e < 0 ? "\u2212" + (-e) : String(e));
  });
  svg.append("text").attr("transform", `translate(205,${(p.top + p.bottom) / 2}) rotate(-90)`)
    .attr("text-anchor", "middle").attr("font-size", 60).text("Event rate [ckky]");

  frameAndXAxis(p, false);
  drawLegend(cfg.legendBox, cfg.legend, 97, 132.5);
}

const bandStyles = [
  { k: 3, color: "#ff0000", alpha: 0.45 },
  { k: 2, color: "#ffd911", alpha: 0.4 },
  { k: 1, color: "#12c112", alpha: 0.4 }
];

function drawRatio(cfg) {
  const p = cfg.panel;
  const y = d3.scaleLinear().domain([0.2, 1.8]).range([p.bottom, p.top]);
  svg.append("clipPath").attr("id", cfg.id).append("rect")
    .attr("x", X0).attr("y", p.top).attr("width", X1 - X0).attr("height", p.bottom - p.top);
  const plot = svg.append("g").attr("clip-path", `url(#${cfg.id})`);

  // uncertainty bands, stepped at bin midpoints
  const pts = [];
  cfg.sigma.forEach((s, i) => {
    if (s === null) { pts.push(null); return; }
    const c = binCenters[i];
    const l = i === 0 ? 500 : (binCenters[i - 1] + c) / 2;
    const r = i === cfg.sigma.length - 1 ? 3500 : (c + binCenters[i + 1]) / 2;
    pts.push({ e: l, s: s }, { e: r, s: s });
  });
  bandStyles.forEach(b => {
    const area = d3.area().defined(d => d !== null)
      .x(d => x(d.e)).y0(d => y(1 - b.k * d.s)).y1(d => y(1 + b.k * d.s));
    plot.append("path").attr("d", area(pts))
      .attr("fill", b.color).attr("fill-opacity", b.alpha)
      .attr("stroke", b.color).attr("stroke-opacity", b.alpha).attr("stroke-width", 2.5);
  });

  // grid
  plot.append("g").selectAll("line").data(ratioTicks).join("line")
    .attr("x1", X0).attr("x2", X1).attr("y1", d => y(d)).attr("y2", d => y(d))
    .attr("stroke", "#bdbdbd").attr("stroke-width", 2).attr("stroke-dasharray", "2,3");
  plot.append("g").selectAll("line").data(xTicks.slice(1, -1)).join("line")
    .attr("x1", d => x(d)).attr("x2", d => x(d)).attr("y1", p.top).attr("y2", p.bottom)
    .attr("stroke", "#c8c8c8").attr("stroke-width", 1.8).attr("stroke-dasharray", "7,5");

  // unity line and points
  plot.append("line").attr("x1", X0).attr("x2", X1).attr("y1", y(1)).attr("y2", y(1))
    .attr("stroke", "#ff0000").attr("stroke-width", 4.5);
  plot.append("g").selectAll("circle").data(cfg.ratio).join("circle")
    .attr("cx", (d, i) => x(ratioCenters[i])).attr("cy", d => y(d)).attr("r", 5.8).attr("fill", "#000");

  const ya = svg.append("g").attr("transform", `translate(${X0},0)`)
    .call(d3.axisLeft(y).tickValues(ratioTicks).tickSize(16).tickPadding(4).tickFormat(d3.format(".1f")));
  ya.select(".domain").remove();
  ya.selectAll("line").attr("stroke", "#000").attr("stroke-width", 2.5);
  ya.selectAll("text").attr("font-size", 53).attr("font-family", "DejaVu Sans").attr("fill", "#000")
    .attr("x", -18).attr("dy", "0.36em");
  svg.append("text").attr("transform", `translate(252,${(p.top + p.bottom) / 2}) rotate(-90)`)
    .attr("text-anchor", "middle").attr("font-size", 60).text("Data/Fit");

  frameAndXAxis(p, cfg.xLabels);
  drawLegend(cfg.legendBox, cfg.legend, 102, 144);
}

// ---------------- panels ----------------
const pCmo = { top: 140.5, bottom: 1558 };
const pCmoR = { top: 1602, bottom: 2005 };
const pLmo = { top: 2044, bottom: 3428 };
const pLmoR = { top: 3470, bottom: 3871 };

const lineItem = (name, color, width, x, y) => ({ kind: "line", name, color, width, x, y, fs: 44 });
const roiItem = (x, y) => ({ kind: "patch", name: "Extended ROI", color: "#0000ff", alpha: 0.115, h: 33, x, y, fs: 44 });
const sigmaItems = (y) => [
  { kind: "patch", name: "1", sigma: true, color: "#12c112", alpha: 0.4, h: 36, x: 423, y, fs: 49 },
  { kind: "patch", name: "2", sigma: true, color: "#ffd911", alpha: 0.4, h: 36, x: 734, y, fs: 49 },
  { kind: "patch", name: "3", sigma: true, color: "#ff0000", alpha: 0.45, h: 36, x: 1045, y, fs: 49 }
];

const wFit = 5, wData = 3.6, wComp = 3.1;

drawSpectrum({
  id: "clip-cmo", panel: pCmo,
  series: [
    { values: cmoFit, color: colors.fit, width: wFit },
    { values: cmoData, color: colors.data, width: wData },
    { values: cmoTwoNu, color: colors.twonu, width: wComp },
    { values: cmoInternal, color: colors.internal, width: wComp },
    { values: cmoNear, color: colors.near, width: wComp },
    { values: cmoRock, color: colors.rock, width: wComp },
    { values: cmoFar, color: colors.far, width: wComp },
    { values: cmoNeutron, color: colors.brown, width: wComp }
  ],
  err: { e: cmoErrE, lo: cmoErrLo, hi: cmoErrHi },
  wm: [1120, 806], label: ["CMO", 1895, 336],
  legendBox: { x: 401, y: 1316, w: 1525, h: 218 },
  legend: [
    lineItem("Fit", colors.fit, 4.5, 416, 1356),
    lineItem("Data", colors.data, 3.2, 416, 1422),
    lineItem("2νββ", colors.twonu, 3.2, 416, 1489),
    lineItem("Internal", colors.internal, 3.2, 766, 1356),
    lineItem("Near Components", colors.near, 3.2, 766, 1422),
    lineItem("Rock", colors.rock, 3.2, 766, 1489),
    lineItem("Far Components", colors.far, 3.2, 1403, 1356),
    lineItem("Neutron", colors.brown, 3.2, 1403, 1422),
    roiItem(1403, 1489)
  ]
});

drawRatio({
  id: "clip-cmor", panel: pCmoR, sigma: cmoSigma, ratio: cmoRatio, xLabels: false,
  legendBox: { x: 404, y: 1893, w: 869, h: 88 },
  legend: sigmaItems(1933)
});

drawSpectrum({
  id: "clip-lmo", panel: pLmo,
  series: [
    { values: lmoFit, color: colors.fit, width: wFit },
    { values: lmoData, color: colors.data, width: wData },
    { values: lmoTwoNu, color: colors.twonu, width: wComp },
    { values: lmoInternal, color: colors.internal, width: wComp },
    { values: lmoNear, color: colors.near, width: wComp },
    { values: lmoRock, color: colors.rock, width: wComp },
    { values: lmoFar, color: colors.far, width: wComp },
    { values: lmoAirRadon, color: colors.brown, width: wComp },
    { values: lmoNeutron, color: colors.pink, width: wComp }
  ],
  err: { e: lmoErrE, lo: lmoErrLo, hi: lmoErrHi },
  wm: [1120, 2522], label: ["LMO", 1893, 2186],
  legendBox: { x: 401, y: 3132, w: 1515, h: 275 },
  legend: [
    lineItem("Fit", colors.fit, 4.5, 416, 3167),
    lineItem("Data", colors.data, 3.2, 416, 3233),
    lineItem("2νββ", colors.twonu, 3.2, 416, 3299),
    lineItem("Internal", colors.internal, 3.2, 416, 3365),
    lineItem("Near Components", colors.near, 3.2, 816, 3167),
    lineItem("Rock", colors.rock, 3.2, 816, 3233),
    lineItem("Far Components", colors.far, 3.2, 816, 3299),
    lineItem("Air Radon", colors.brown, 3.2, 1452, 3167),
    lineItem("Neutron", colors.pink, 3.2, 1452, 3233),
    roiItem(1452, 3299)
  ]
});

drawRatio({
  id: "clip-lmor", panel: pLmoR, sigma: lmoSigma, ratio: lmoRatio, xLabels: true,
  legendBox: { x: 404, y: 3758, w: 869, h: 87 },
  legend: sigmaItems(3798)
});

svg.append("text").attr("x", (X0 + X1) / 2).attr("y", 3990).attr("text-anchor", "middle")
  .attr("font-size", 60).text("Energy [keV]");
</script>
</body>
</html>
